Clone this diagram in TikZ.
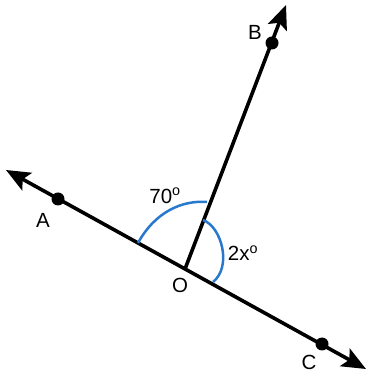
\documentclass[tikz,border=0pt]{standalone}
\usepackage{fontspec}
\setmainfont{Liberation Sans}
\usepackage{tikz}
\usetikzlibrary{arrows.meta, calc}
\definecolor{arccolor}{RGB}{40,120,205}

\begin{document}
\begin{tikzpicture}[
    x=1pt, y=1pt,
    ray/.style={line width=3.6pt, >={Stealth[length=24pt, width=20pt, inset=5pt]}},
    dot/.style={circle, fill=black, inner sep=0pt, minimum size=13pt},
    anglearc/.style={line width=2.5pt, arccolor},
    lbl/.style={font=\fontsize{20.5}{20.5}\selectfont, inner sep=0pt}
]
\useasboundingbox (0,0) rectangle (368,377);

\coordinate (O) at (185,108);
\coordinate (leftend) at (6,207);
\coordinate (rightend) at (366,8);
\coordinate (topend) at (286,372);

\node[dot] (A) at (58,178) {};
\node[dot] (C) at (322,33) {};
\node[dot] (B) at (272,334) {};

\draw[ray, <->] (leftend) -- (rightend);
\draw[ray, ->] (O) -- (topend);

% angle marks
\draw[anglearc] (138,134) .. controls (155,165) and (182,177) .. (207,175);
\draw[anglearc] (203,157) .. controls (222,150) and (232,110) .. (213,95);

\node[lbl] (labA) at (43,157) {A};
\node[lbl] (labB) at (255,345) {B};
\node[lbl] (labC) at (309,15) {C};
\node[lbl] (labO) at (180,92) {O};
\node[lbl] (ang1) at (165,181) {70\textsuperscript{o}};
\node[lbl] (ang2) at (243,124) {2x\textsuperscript{o}};

\end{tikzpicture}
\end{document}
